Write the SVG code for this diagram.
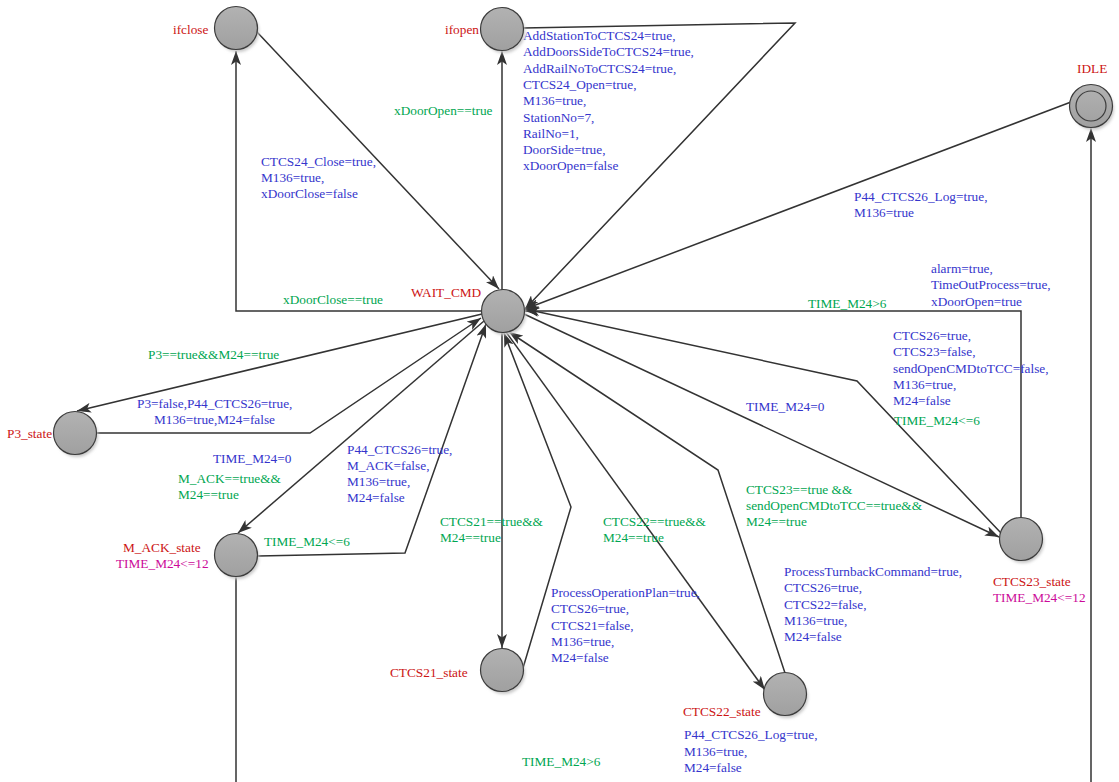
<svg xmlns="http://www.w3.org/2000/svg" width="1119" height="782" viewBox="0 0 1119 782">
<style>
  text { font-family: "Liberation Serif", "Times New Roman", serif; font-size: 13.3px; }
  .nm { fill: #cc1414; }
  .inv { fill: #cc0a99; }
  .gd { fill: #00a651; }
  .up { fill: #3535cc; }
  .edge { fill: none; stroke: #333; stroke-width: 1.5; }
  .arr { marker-end: url(#ah); }
  .loc { fill: url(#gf); stroke: #3c3c3c; stroke-width: 1.2; }
  .shd { fill: #c8c8c8; filter: url(#sh); }
</style>
<defs>
  <marker id="ah" viewBox="0 0 14 10" refX="14" refY="5" markerWidth="14" markerHeight="10" markerUnits="userSpaceOnUse" orient="auto">
    <path d="M0,0 L14,5 L0,10 L3.5,5 z" fill="#333"/>
  </marker>
  <linearGradient id="gf" x1="0" y1="0" x2="0" y2="1">
    <stop offset="0" stop-color="#b2b2b2"/>
    <stop offset="1" stop-color="#a0a0a0"/>
  </linearGradient>
  <filter id="sh" x="-50%" y="-50%" width="200%" height="200%">
    <feGaussianBlur stdDeviation="1.5"/>
  </filter>
</defs>

<rect width="1119" height="782" fill="#ffffff"/>

<!-- transitions -->
<g id="edges">
  <!-- ifclose -> WAIT_CMD -->
  <path class="edge arr" d="M257,32 L499,289"/>
  <!-- WAIT_CMD -> ifclose -->
  <path class="edge arr" d="M482,311 L236,311 L236,51"/>
  <!-- WAIT_CMD -> ifopen -->
  <path class="edge arr" d="M502,290 L502,51"/>
  <!-- ifopen -> WAIT_CMD -->
  <path class="edge arr" d="M523,28 L795,23 L525,309"/>
  <!-- IDLE -> WAIT_CMD -->
  <path class="edge arr" d="M1071,102 L525,309"/>
  <!-- WAIT_CMD -> P3_state -->
  <path class="edge arr" d="M482,314 L77,411"/>
  <!-- P3_state -> WAIT_CMD -->
  <path class="edge arr" d="M97,433 L310,433 L481,318"/>
  <!-- WAIT_CMD -> M_ACK_state -->
  <path class="edge arr" d="M484,321 L238,533"/>
  <!-- M_ACK_state -> WAIT_CMD -->
  <path class="edge arr" d="M258,556 L405,553 L486,324"/>
  <!-- WAIT_CMD -> CTCS21_state -->
  <path class="edge arr" d="M502,332 L502,648"/>
  <!-- CTCS21_state -> WAIT_CMD -->
  <path class="edge arr" d="M523,668 L571,507 L504,333"/>
  <!-- WAIT_CMD -> CTCS22_state -->
  <path class="edge arr" d="M506,332 L765,690"/>
  <!-- CTCS22_state -> WAIT_CMD -->
  <path class="edge arr" d="M785,673 L718,470 L509,332"/>
  <!-- WAIT_CMD -> CTCS23_state -->
  <path class="edge arr" d="M524,314 L999,537"/>
  <!-- CTCS23_state -> WAIT_CMD (bent) -->
  <path class="edge arr" d="M1001,533 L857,381 L525,309"/>
  <!-- CTCS23_state -> WAIT_CMD (timeout) -->
  <path class="edge arr" d="M1021,518 L1021,311 L525,311"/>
  <!-- M_ACK_state -> IDLE (runs below) -->
  <path class="edge arr" d="M236,577 L236,800 L1091,800 L1091,128"/>
</g>

<!-- transition labels -->
<g id="labels">
  <text class="up" x="261" y="166">CTCS24_Close=true,<tspan x="261" dy="16">M136=true,</tspan><tspan x="261" dy="16">xDoorClose=false</tspan></text>
  <text class="gd" x="283" y="304">xDoorClose==true</text>
  <text class="gd" x="394" y="115">xDoorOpen==true</text>
  <text class="up" x="523" y="40">AddStationToCTCS24=true,<tspan x="523" dy="16.3">AddDoorsSideToCTCS24=true,</tspan><tspan x="523" dy="16.3">AddRailNoToCTCS24=true,</tspan><tspan x="523" dy="16.3">CTCS24_Open=true,</tspan><tspan x="523" dy="16.3">M136=true,</tspan><tspan x="523" dy="16.3">StationNo=7,</tspan><tspan x="523" dy="16.3">RailNo=1,</tspan><tspan x="523" dy="16.3">DoorSide=true,</tspan><tspan x="523" dy="16.3">xDoorOpen=false</tspan></text>
  <text class="up" x="854" y="201">P44_CTCS26_Log=true,<tspan x="854" dy="16">M136=true</tspan></text>
  <text class="up" x="931" y="273">alarm=true,<tspan x="931" dy="16.3">TimeOutProcess=true,</tspan><tspan x="931" dy="16.3">xDoorOpen=true</tspan></text>
  <text class="gd" x="808" y="308">TIME_M24&gt;6</text>
  <text class="up" x="893" y="340">CTCS26=true,<tspan x="893" dy="16.3">CTCS23=false,</tspan><tspan x="893" dy="16.3">sendOpenCMDtoTCC=false,</tspan><tspan x="893" dy="16.3">M136=true,</tspan><tspan x="893" dy="16.3">M24=false</tspan></text>
  <text class="gd" x="894" y="425">TIME_M24&lt;=6</text>
  <text class="up" x="746" y="411">TIME_M24=0</text>
  <text class="gd" x="746" y="494">CTCS23==true &amp;&amp;<tspan x="746" dy="16">sendOpenCMDtoTCC==true&amp;&amp;</tspan><tspan x="746" dy="16">M24==true</tspan></text>
  <text class="gd" x="148" y="359">P3==true&amp;&amp;M24==true</text>
  <text class="up" x="137" y="408">P3=false,P44_CTCS26=true,<tspan x="154" dy="16">M136=true,M24=false</tspan></text>
  <text class="up" x="213" y="463">TIME_M24=0</text>
  <text class="gd" x="178" y="483">M_ACK==true&amp;&amp;<tspan x="178" dy="16">M24==true</tspan></text>
  <text class="up" x="347" y="454">P44_CTCS26=true,<tspan x="347" dy="16">M_ACK=false,</tspan><tspan x="347" dy="16">M136=true,</tspan><tspan x="347" dy="16">M24=false</tspan></text>
  <text class="gd" x="264" y="546">TIME_M24&lt;=6</text>
  <text class="gd" x="440" y="526">CTCS21==true&amp;&amp;<tspan x="440" dy="16">M24==true</tspan></text>
  <text class="gd" x="603" y="526">CTCS22==true&amp;&amp;<tspan x="603" dy="16">M24==true</tspan></text>
  <text class="up" x="551" y="597">ProcessOperationPlan=true,<tspan x="551" dy="16.3">CTCS26=true,</tspan><tspan x="551" dy="16.3">CTCS21=false,</tspan><tspan x="551" dy="16.3">M136=true,</tspan><tspan x="551" dy="16.3">M24=false</tspan></text>
  <text class="up" x="784" y="576">ProcessTurnbackCommand=true,<tspan x="784" dy="16.3">CTCS26=true,</tspan><tspan x="784" dy="16.3">CTCS22=false,</tspan><tspan x="784" dy="16.3">M136=true,</tspan><tspan x="784" dy="16.3">M24=false</tspan></text>
  <text class="gd" x="522" y="766">TIME_M24&gt;6</text>
  <text class="up" x="684" y="739">P44_CTCS26_Log=true,<tspan x="684" dy="16.5">M136=true,</tspan><tspan x="684" dy="16.5">M24=false</tspan></text>
</g>

<!-- locations -->
<g id="ifclose">
  <circle class="shd" cx="238" cy="31" r="21"/>
  <circle class="loc" cx="236" cy="28" r="21.5"/>
  <text class="nm" x="173" y="34">ifclose</text>
</g>
<g id="ifopen">
  <circle class="shd" cx="504" cy="32" r="21"/>
  <circle class="loc" cx="502" cy="29" r="21.5"/>
  <text class="nm" x="445" y="34">ifopen</text>
</g>
<g id="IDLE">
  <circle class="shd" cx="1093" cy="109" r="21"/>
  <circle class="loc" cx="1091" cy="106" r="21.5"/>
  <circle cx="1091" cy="106" r="15" fill="none" stroke="#3c3c3c" stroke-width="1.2"/>
  <text class="nm" x="1077" y="73">IDLE</text>
</g>
<g id="WAIT_CMD">
  <circle class="shd" cx="505" cy="314" r="21"/>
  <circle class="loc" cx="503" cy="311" r="21.5"/>
  <text class="nm" x="411" y="297">WAIT_CMD</text>
</g>
<g id="P3_state">
  <circle class="shd" cx="77" cy="436" r="21"/>
  <circle class="loc" cx="75" cy="433" r="21.5"/>
  <text class="nm" x="7" y="438">P3_state</text>
</g>
<g id="M_ACK_state">
  <circle class="shd" cx="238" cy="558" r="21"/>
  <circle class="loc" cx="236" cy="555" r="21.5"/>
  <text class="nm" x="123" y="552">M_ACK_state</text>
  <text class="inv" x="116" y="568">TIME_M24&lt;=12</text>
</g>
<g id="CTCS21_state">
  <circle class="shd" cx="504" cy="673" r="21"/>
  <circle class="loc" cx="502" cy="670" r="21.5"/>
  <text class="nm" x="390" y="677">CTCS21_state</text>
</g>
<g id="CTCS22_state">
  <circle class="shd" cx="787" cy="697" r="21"/>
  <circle class="loc" cx="785" cy="694" r="21.5"/>
  <text class="nm" x="683" y="716">CTCS22_state</text>
</g>
<g id="CTCS23_state">
  <circle class="shd" cx="1023" cy="542" r="21"/>
  <circle class="loc" cx="1021" cy="539" r="21.5"/>
  <text class="nm" x="993" y="586">CTCS23_state</text>
  <text class="inv" x="993" y="602">TIME_M24&lt;=12</text>
</g>
</svg>
